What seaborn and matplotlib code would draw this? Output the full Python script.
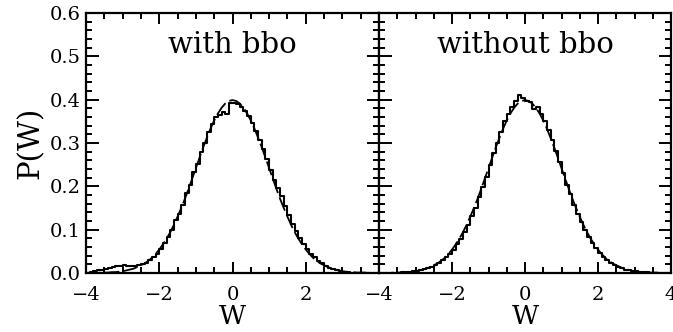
import numpy as np
import matplotlib
matplotlib.use("Agg")
import matplotlib.pyplot as plt
from matplotlib.ticker import MultipleLocator
import seaborn as sns

# bin left edges run from -4.0 to 3.9 in steps of 0.1
bin_lefts = [round(-4.0 + 0.1 * i, 1) for i in range(80)]

# histogram heights, "with bbo"
hist_with = [
    0.000, 0.002, 0.004, 0.006, 0.008, 0.010, 0.012, 0.014, 0.016, 0.017,
    0.018, 0.017, 0.016, 0.017, 0.019, 0.020, 0.024, 0.029, 0.036, 0.045,
    0.056, 0.070, 0.084, 0.100, 0.122, 0.136, 0.158, 0.185, 0.204, 0.232,
    0.252, 0.280, 0.300, 0.325, 0.345, 0.360, 0.364, 0.372, 0.367, 0.392,
    0.393, 0.390, 0.384, 0.374, 0.362, 0.346, 0.328, 0.308, 0.286, 0.262,
    0.238, 0.214, 0.196, 0.178, 0.155, 0.134, 0.114, 0.097, 0.081, 0.068,
    0.056, 0.045, 0.036, 0.028, 0.022, 0.017, 0.012, 0.009, 0.006, 0.004,
    0.003, 0.002, 0.001, 0.001, 0.000, 0.000, 0.000, 0.000, 0.000, 0.000,
]

# histogram heights, "without bbo"
hist_without = [
    0.000, 0.000, 0.000, 0.001, 0.001, 0.001, 0.002, 0.002, 0.003, 0.004,
    0.005, 0.007, 0.009, 0.012, 0.015, 0.019, 0.024, 0.030, 0.037, 0.045,
    0.054, 0.066, 0.078, 0.094, 0.110, 0.132, 0.150, 0.176, 0.198, 0.222,
    0.250, 0.276, 0.300, 0.326, 0.350, 0.368, 0.384, 0.398, 0.410, 0.404,
    0.398, 0.394, 0.378, 0.382, 0.366, 0.350, 0.330, 0.306, 0.282, 0.256,
    0.230, 0.204, 0.182, 0.158, 0.136, 0.118, 0.100, 0.084, 0.070, 0.057,
    0.046, 0.037, 0.029, 0.023, 0.018, 0.014, 0.011, 0.008, 0.006, 0.005,
    0.004, 0.003, 0.002, 0.002, 0.001, 0.001, 0.001, 0.000, 0.000, 0.000,
]

# dashed gaussian curves, x from -4 to 4 in 0.1 steps
fit_x = [round(-4.0 + 0.1 * i, 1) for i in range(81)]
half = [0.399, 0.397, 0.391, 0.381, 0.368, 0.352, 0.333, 0.312, 0.290, 0.266,
        0.242, 0.218, 0.194, 0.171, 0.150, 0.130, 0.111, 0.094, 0.079, 0.066,
        0.054, 0.044, 0.035, 0.028, 0.022, 0.018, 0.014, 0.010, 0.008, 0.006,
        0.004, 0.003, 0.002, 0.002, 0.001, 0.001, 0.001, 0.000, 0.000, 0.000,
        0.000]
fit_with = half[::-1] + half[1:]
fit_without = half[::-1] + half[1:]

panel_titles = ["with bbo", "without bbo"]
x_ticklabels = ["\u22124", "\u22122", "0", "2", "4"]
y_ticklabels = ["0.0", "0.1", "0.2", "0.3", "0.4", "0.5", "0.6"]

sns.set_style("ticks")
plt.rcParams["font.family"] = ["DejaVu Serif"]
plt.rcParams["axes.linewidth"] = 1.6
plt.rcParams["text.color"] = "black"
plt.rcParams["axes.labelcolor"] = "black"
plt.rcParams["xtick.color"] = "black"
plt.rcParams["ytick.color"] = "black"

fig = plt.figure(figsize=(6.73, 3.32), dpi=100)
ax1 = fig.add_axes([86 / 673, 59 / 332, 293 / 673, 260 / 332])
ax2 = fig.add_axes([379 / 673, 59 / 332, 292 / 673, 260 / 332])

edges = bin_lefts + [4.0]
centers = [b + 0.05 for b in bin_lefts]

for ax, hv, fv, title in [(ax1, hist_with, fit_with, panel_titles[0]),
                          (ax2, hist_without, fit_without, panel_titles[1])]:
    sns.histplot(x=centers, weights=hv, bins=edges, element="step", fill=False,
                 color="black", linewidth=1.5, ax=ax)
    sns.lineplot(x=fit_x, y=fv, color="black", linewidth=1.3, ax=ax,
                 dashes=False, linestyle=(0, (8, 2.5)))
    ax.set_xlim(-4, 4)
    ax.set_ylim(0, 0.6)
    ax.xaxis.set_major_locator(MultipleLocator(2))
    ax.xaxis.set_minor_locator(MultipleLocator(0.5))
    ax.yaxis.set_major_locator(MultipleLocator(0.1))
    ax.yaxis.set_minor_locator(MultipleLocator(0.02))
    ax.tick_params(which="both", direction="in", top=True, right=True,
                   bottom=True, left=True, width=1.4, colors="black")
    ax.tick_params(which="major", length=8)
    ax.tick_params(which="minor", length=4.5)
    ax.tick_params(axis="y", which="major", length=9)
    ax.tick_params(axis="x", which="major", pad=9)
    ax.set_xlabel("W", fontsize=19, labelpad=0.5, color="black")
    ax.set_ylabel("")
    ax.text(0, 0.527, title, ha="center", va="center", fontsize=21, color="black")
    for s in ax.spines.values():
        s.set_visible(True)
        s.set_color("black")

ax1.set_xticks([-4, -2, 0, 2])
ax1.set_xticklabels(x_ticklabels[:4], fontsize=14)
ax2.set_xticks([-4, -2, 0, 2, 4])
ax2.set_xticklabels(x_ticklabels, fontsize=14)
ax1.set_yticks([0, 0.1, 0.2, 0.3, 0.4, 0.5, 0.6])
ax1.set_yticklabels(y_ticklabels, fontsize=14)
ax2.set_yticks([0, 0.1, 0.2, 0.3, 0.4, 0.5, 0.6])
ax2.set_yticklabels([])
ax1.set_ylabel("P(W)", fontsize=21, labelpad=4, color="black")

fig.savefig("out.png", dpi=100)
